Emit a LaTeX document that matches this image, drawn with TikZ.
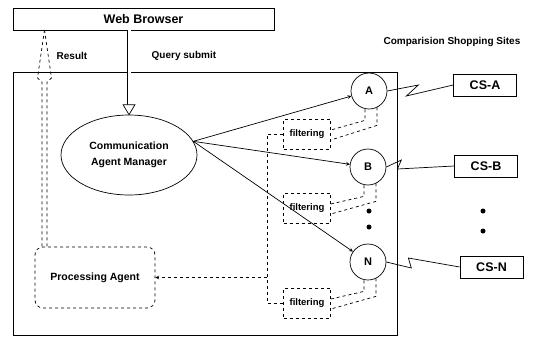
\documentclass[tikz,border=0pt]{standalone}
\usepackage{fontspec}
\setmainfont{Liberation Sans}
\usetikzlibrary{shapes.geometric,calc}

\begin{document}
\begin{tikzpicture}[x=1pt,y=-1pt,>=stealth,line width=0.7pt,
  every node/.style={font=\bfseries\fontsize{10}{12}\selectfont},
  agent/.style={draw,circle,minimum size=36pt,inner sep=0pt,font=\bfseries\fontsize{11}{13}\selectfont},
  filterbox/.style={draw,dashed,minimum width=47pt,minimum height=30pt,inner sep=0pt,font=\bfseries\fontsize{9.5}{11}\selectfont},
  sitebox/.style={draw,minimum width=63pt,minimum height=22pt,inner sep=0pt,font=\bfseries\fontsize{12.5}{14}\selectfont}]
  \useasboundingbox (0,0) rectangle (538,338);
  % browser and agent system
  \node[draw,minimum width=261pt,minimum height=22pt,inner sep=0pt,font=\bfseries\fontsize{12.5}{14}\selectfont] (web) at (143.5,19) {Web Browser};
  \node[draw,minimum width=384pt,minimum height=263pt,inner sep=0pt] (sys) at (205,203.5) {};
  \node (res) at (72,56) {Result};
  \node[anchor=west] (qry) at (148,56) {Query submit};
  \node (css) at (452,42) {Comparision Shopping Sites};
  \node[draw,ellipse,minimum width=136pt,minimum height=80pt,inner sep=0pt,align=center,font=\bfseries\fontsize{10.5}{12}\selectfont] (cam) at (129,155) {Communication\\[4pt]Agent Manager};
  \node[draw,dashed,rounded corners=8pt,minimum width=120pt,minimum height=61pt,inner sep=0pt,font=\bfseries\fontsize{10.5}{12}\selectfont] (proc) at (95,277.5) {Processing Agent};
  % agents
  \node[agent] (A) at (369,91) {A};
  \node[agent] (B) at (368,167) {B};
  \node[agent] (N) at (368,262) {N};
  \node[filterbox] (f1) at (307,134) {filtering};
  \node[filterbox] (f2) at (307,208) {filtering};
  \node[filterbox] (f3) at (307,303) {filtering};
  % shopping sites
  \node[sitebox] (csa) at (485,85) {CS-A};
  \node[sitebox] (csb) at (486,166) {CS-B};
  \node[sitebox] (csn) at (491.5,267) {CS-N};
  \foreach \x/\y in {369/211,369/227,483/211,483/231} \fill (\x,\y) circle (2.5pt);
  % query and result
  \draw[double,double distance=3pt,shorten >=10pt] (web.south -| cam.north) -- (cam.north);
  \draw[fill=white] (cam.north) -- ++(-6,-10) -- ++(12,0) -- cycle;
  \coordinate (rtip) at (44.5,30);
  \draw[dashed] (rtip) -- ++(-7,48) -- ++(4.5,4) -- ++(0,165);
  \draw[dashed] (rtip) -- ++(7,48) -- ++(-4.5,4) -- ++(0,165);
  % manager to agents
  \foreach \n in {A,B,N} \draw[->] (cam.12) -- (\n);
  % agents to filters
  \foreach \n/\f in {A/f1,B/f2,N/f3} {
    \draw[dashed] ($(\n.south)+(-4,0)$) -- ++(0,11) -- ($(\f.east)+(0,-4)$);
    \draw[dashed] ($(\n.south)+(8,-2)$) -- ++(0,18) -- ($(\f.east)+(0,6)$);
  }
  \coordinate (bus) at ($(f1.west)+(-16,0)$);
  \draw[dashed] (f1.west) -- (bus) |- (f3.west);
  \draw[dashed,->] (bus |- proc.east) -- (proc.east);
  % links to sites
  \draw (A.east) -- ++(31,-6) -- ++(-12,11) -- (csa.west);
  \draw (B.east) -- ++(15,-7) -- ++(-4,9) -- (csb.west);
  \draw (N.east) -- ++(25,6) -- ++(-3,-10) -- (csn.west);
\end{tikzpicture}
\end{document}
